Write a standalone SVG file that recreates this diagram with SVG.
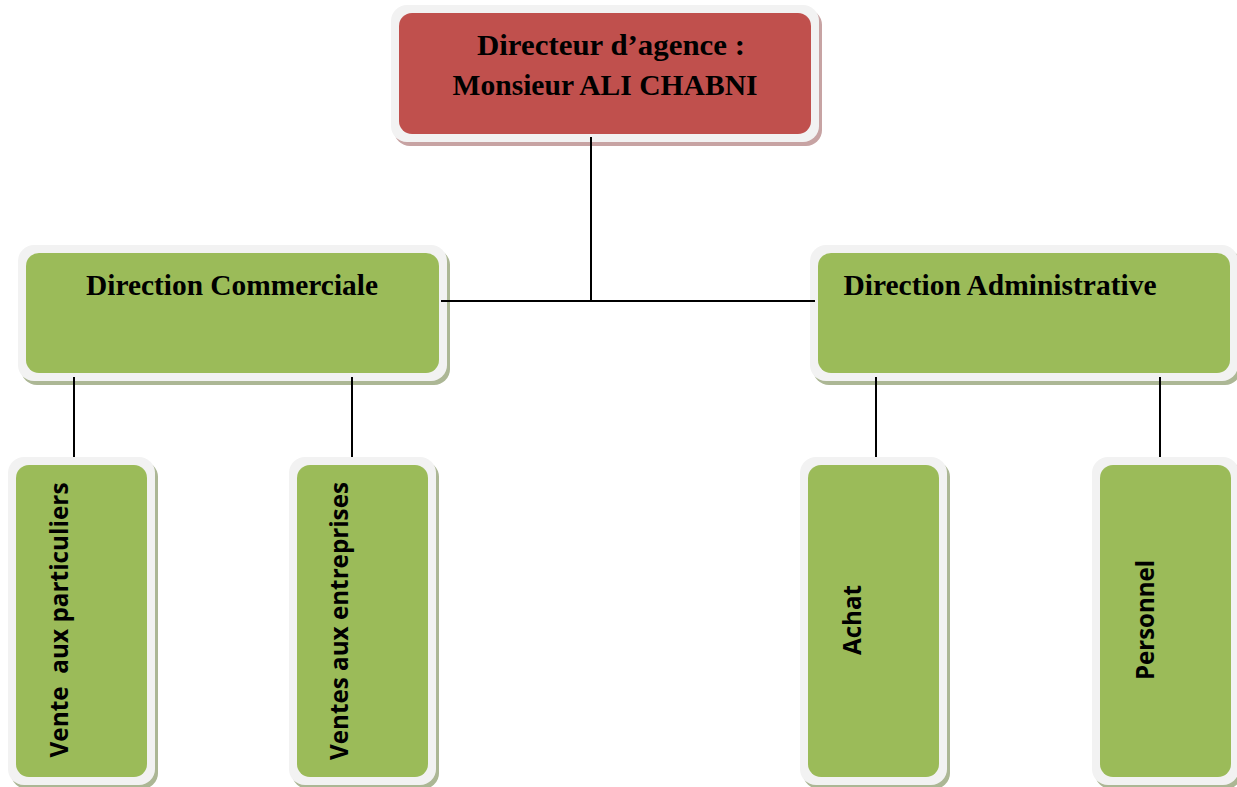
<svg xmlns="http://www.w3.org/2000/svg" width="1237" height="787" viewBox="0 0 1237 787">
<style>
.frame{fill:#f2f2f2}
.shr{fill:#c7a3a3}
.shg{fill:#acb795}
.red{fill:#c0504d}
.green{fill:#9bbb59}
.t1{font-family:"Liberation Serif","Times New Roman",serif;font-weight:bold;font-size:29px;fill:#000;text-anchor:middle}
.t2{font-family:"Open Sans","Noto Sans",sans-serif;font-weight:bold;font-size:25px;fill:#000;text-anchor:middle}
.c{stroke:#000;stroke-width:2;fill:none}
</style>
<rect width="1237" height="787" fill="#fff"/>
<g id="directeur">
<rect class="shr" x="394" y="9" width="428" height="137" rx="16"/>
<rect class="frame" x="391" y="5" width="428" height="137" rx="16"/>
<rect class="red" x="399" y="13" width="412" height="121" rx="13"/>
<text class="t1" x="611" y="55" textLength="268" lengthAdjust="spacingAndGlyphs">Directeur d’agence :</text>
<text class="t1" x="605" y="95" textLength="305" lengthAdjust="spacingAndGlyphs">Monsieur ALI CHABNI</text>
</g>
<g id="dir-commerciale">
<rect class="shg" x="21" y="249" width="429" height="136" rx="16"/>
<rect class="frame" x="18" y="245" width="429" height="136" rx="16"/>
<rect class="green" x="26" y="253" width="413" height="120" rx="13"/>
<text class="t1" x="232" y="295" textLength="292" lengthAdjust="spacingAndGlyphs">Direction Commerciale</text>
</g>
<g id="dir-administrative">
<rect class="shg" x="813" y="249" width="428" height="136" rx="16"/>
<rect class="frame" x="810" y="245" width="428" height="136" rx="16"/>
<rect class="green" x="818" y="253" width="412" height="120" rx="13"/>
<text class="t1" x="1000" y="295" textLength="313" lengthAdjust="spacingAndGlyphs">Direction Administrative</text>
</g>
<g id="vente-particuliers">
<rect class="shg" x="11" y="461" width="147" height="328" rx="16"/>
<rect class="frame" x="8" y="457" width="147" height="328" rx="16"/>
<rect class="green" x="16" y="465" width="131" height="312" rx="13"/>
<text class="t2" x="68" y="620" transform="rotate(-90 68 620)" textLength="275" lengthAdjust="spacingAndGlyphs" xml:space="preserve">Vente  aux particuliers</text>
</g>
<g id="ventes-entreprises">
<rect class="shg" x="292" y="461" width="147" height="328" rx="16"/>
<rect class="frame" x="289" y="457" width="147" height="328" rx="16"/>
<rect class="green" x="297" y="465" width="131" height="312" rx="13"/>
<text class="t2" x="348" y="621" transform="rotate(-90 348 621)" textLength="278" lengthAdjust="spacingAndGlyphs">Ventes aux entreprises</text>
</g>
<g id="achat">
<rect class="shg" x="803" y="461" width="147" height="328" rx="16"/>
<rect class="frame" x="800" y="457" width="147" height="328" rx="16"/>
<rect class="green" x="808" y="465" width="131" height="312" rx="13"/>
<text class="t2" x="861" y="620" transform="rotate(-90 861 620)" textLength="70" lengthAdjust="spacingAndGlyphs">Achat</text>
</g>
<g id="personnel">
<rect class="shg" x="1095" y="461" width="147" height="328" rx="16"/>
<rect class="frame" x="1092" y="457" width="147" height="328" rx="16"/>
<rect class="green" x="1100" y="465" width="131" height="312" rx="13"/>
<text class="t2" x="1154" y="620" transform="rotate(-90 1154 620)" textLength="120" lengthAdjust="spacingAndGlyphs">Personnel</text>
</g>
<g id="connectors">
<line class="c" x1="591" y1="137" x2="591" y2="301"/>
<line class="c" x1="441" y1="301" x2="815" y2="301"/>
<line class="c" x1="74" y1="377" x2="74" y2="457"/>
<line class="c" x1="352" y1="377" x2="352" y2="457"/>
<line class="c" x1="876" y1="377" x2="876" y2="457"/>
<line class="c" x1="1160" y1="377" x2="1160" y2="457"/>
</g>
</svg>
